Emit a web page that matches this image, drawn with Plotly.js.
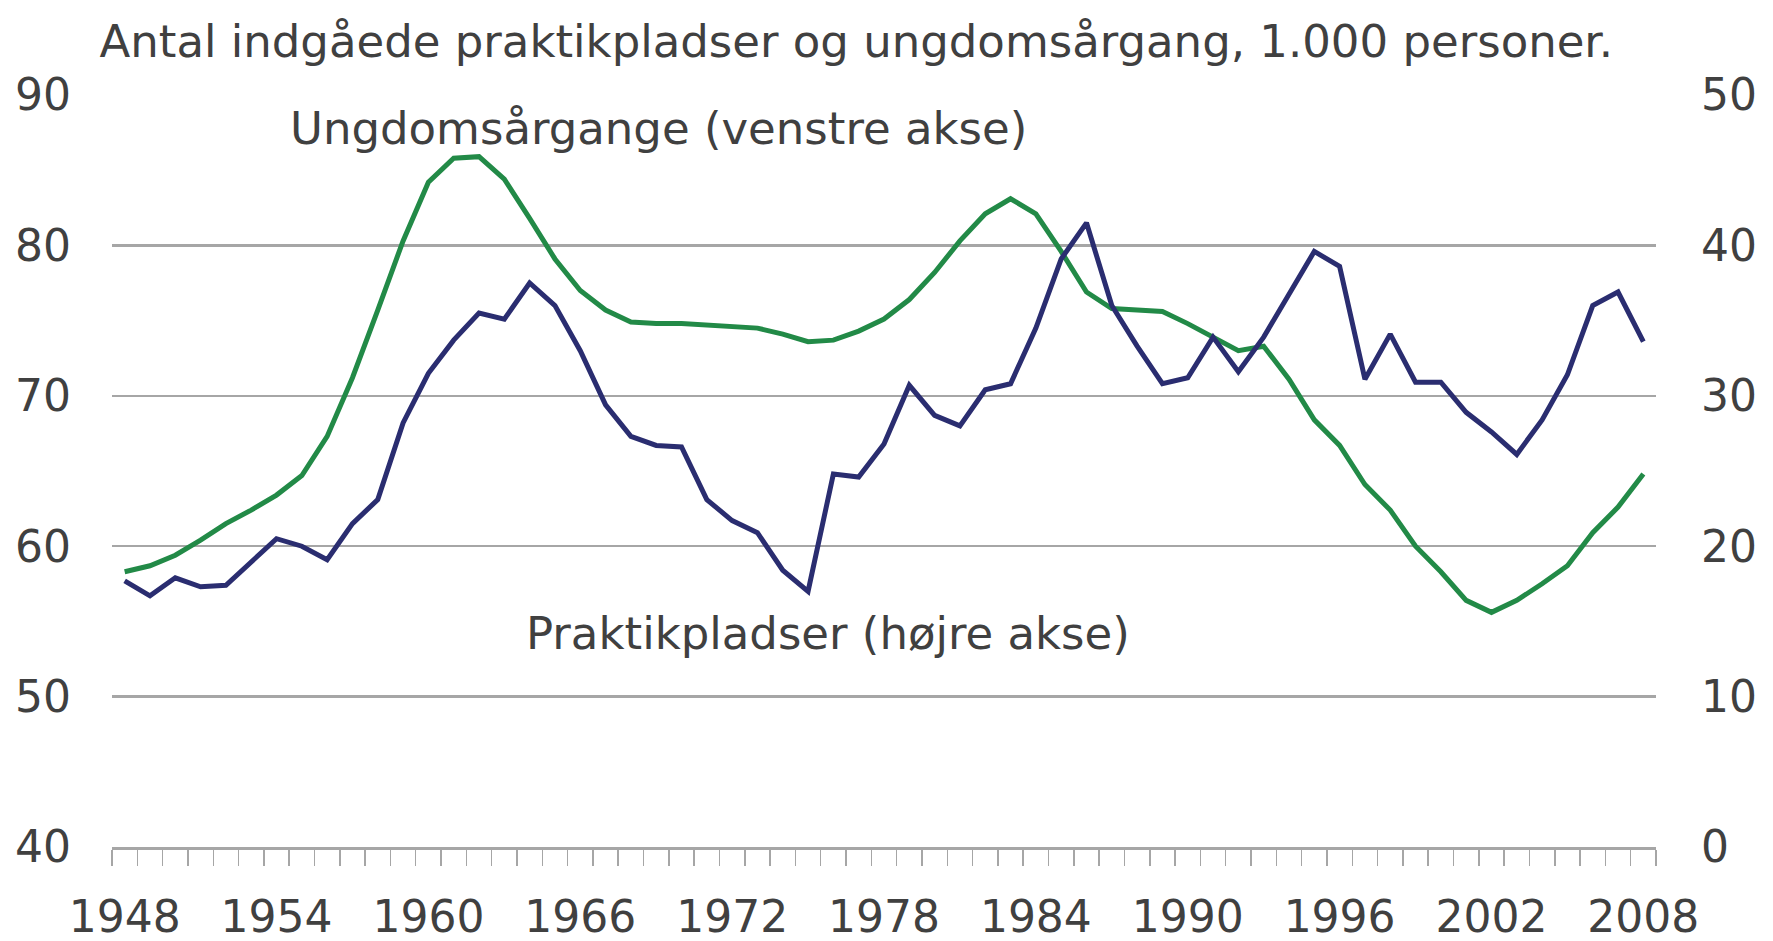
<!DOCTYPE html>
<html>
<head>
<meta charset="utf-8">
<script src="https://cdn.plot.ly/plotly-3.0.1.min.js"></script>
<style>html,body{margin:0;padding:0;background:#fff;}#chart{width:1773px;height:941px;}</style>
</head>
<body>
<div id="chart"></div>
<script>
// Years (categories)
const years = [1948,1949,1950,1951,1952,1953,1954,1955,1956,1957,
  1958,1959,1960,1961,1962,1963,1964,1965,1966,1967,
  1968,1969,1970,1971,1972,1973,1974,1975,1976,1977,
  1978,1979,1980,1981,1982,1983,1984,1985,1986,1987,
  1988,1989,1990,1991,1992,1993,1994,1995,1996,1997,
  1998,1999,2000,2001,2002,2003,2004,2005,2006,2007,2008];

// Ungdomsårgange, 1.000 personer (left axis)
const ungdom = [58.3,58.7,59.4,60.4,61.5,62.4,63.4,64.7,67.3,71.2,
  75.7,80.3,84.2,85.8,85.9,84.4,81.8,79.1,77.0,75.7,
  74.9,74.8,74.8,74.7,74.6,74.5,74.1,73.6,73.7,74.3,
  75.1,76.4,78.2,80.3,82.1,83.1,82.1,79.6,76.9,75.8,
  75.7,75.6,74.8,73.9,73.0,73.3,71.1,68.4,66.7,64.1,
  62.4,60.0,58.3,56.4,55.6,56.4,57.5,58.7,60.9,62.6,64.8];

// Indgåede praktikpladser, 1.000 (right axis)
const praktik = [17.7,16.7,17.9,17.3,17.4,19.0,20.5,20.0,19.1,21.5,
  23.1,28.2,31.5,33.7,35.5,35.1,37.5,36.0,33.0,29.4,
  27.3,26.7,26.6,23.1,21.7,20.9,18.4,17.0,24.8,24.6,
  26.8,30.7,28.7,28.0,30.4,30.8,34.5,39.1,41.5,36.0,
  33.3,30.8,31.2,33.9,31.6,33.9,36.7,39.6,38.6,31.1,
  34.1,30.9,30.9,28.9,27.6,26.1,28.4,31.4,36.0,36.9,33.6];

const xTickVals = [1948,1954,1960,1966,1972,1978,1984,1990,1996,2002,2008];
const xTickText = ['1948','1954','1960','1966','1972','1978','1984','1990','1996','2002','2008'];
const leftTicks = [40,50,60,70,80,90];
const rightTicks = [0,10,20,30,40,50];

const titleText = 'Antal indgåede praktikpladser og ungdomsårgang, 1.000 personer.';
const labelUngdom = 'Ungdomsårgange (venstre akse)';
const labelPraktik = 'Praktikpladser (højre akse)';

const FONT = 'DejaVu Sans, Verdana, sans-serif';
const TXT = '#404040';
const FS = 44;
const FS_TEXT = 45;

const traces = [
  {x: years, y: ungdom, type: 'scatter', mode: 'lines', yaxis: 'y',
   line: {color: '#228a47', width: 5}, hoverinfo: 'x+y'},
  {x: years, y: praktik, type: 'scatter', mode: 'lines', yaxis: 'y2',
   line: {color: '#2a2d70', width: 5}, hoverinfo: 'x+y'}
];

const layout = {
  width: 1773, height: 941,
  paper_bgcolor: '#ffffff', plot_bgcolor: '#ffffff',
  showlegend: false,
  margin: {l: 112, r: 117, t: 95, b: 94, pad: 0},
  font: {family: FONT, size: FS, color: TXT},
  title: {text: titleText, font: {family: FONT, size: FS_TEXT, color: TXT},
          xref: 'container', yref: 'container', x: 0.0561, xanchor: 'left',
          y: 1 - 41/941, yanchor: 'middle'},
  xaxis: {
    range: [1947.5, 2008.5], tickmode: 'array', tickvals: xTickVals, ticktext: xTickText,
    ticks: '', showgrid: false, zeroline: false, showline: true, linecolor: '#a6a6a6', linewidth: 2.5,
    tickfont: {family: FONT, size: FS, color: TXT}, ticklabelstandoff: 30,
    minor: {tick0: 1947.5, dtick: 1, ticks: 'outside', ticklen: 16, tickcolor: '#a6a6a6', tickwidth: 1.5, showgrid: false},
    fixedrange: true
  },
  yaxis: {
    range: [40, 90], tickmode: 'array', tickvals: leftTicks, ticks: '',
    showgrid: true, gridcolor: '#a6a6a6', gridwidth: 2.5, zeroline: false, showline: false,
    tickfont: {family: FONT, size: FS, color: TXT}, ticklabelstandoff: 40, fixedrange: true
  },
  yaxis2: {
    range: [0, 50], tickmode: 'array', tickvals: rightTicks, ticks: '', overlaying: 'y', side: 'right',
    showgrid: false, zeroline: false, showline: false,
    tickfont: {family: FONT, size: FS, color: TXT}, ticklabelstandoff: 44, fixedrange: true
  },
  annotations: [
    {text: labelUngdom, xref: 'x', yref: 'y', x: 1954.45, y: 87.74, xanchor: 'left', yanchor: 'middle',
     showarrow: false, font: {family: FONT, size: FS_TEXT, color: TXT}},
    {text: labelPraktik, xref: 'x', yref: 'y', x: 1963.76, y: 54.2, xanchor: 'left', yanchor: 'middle',
     showarrow: false, font: {family: FONT, size: FS_TEXT, color: TXT}}
  ]
};

Plotly.newPlot('chart', traces, layout, {displayModeBar: false, staticPlot: true});
</script>
</body>
</html>
